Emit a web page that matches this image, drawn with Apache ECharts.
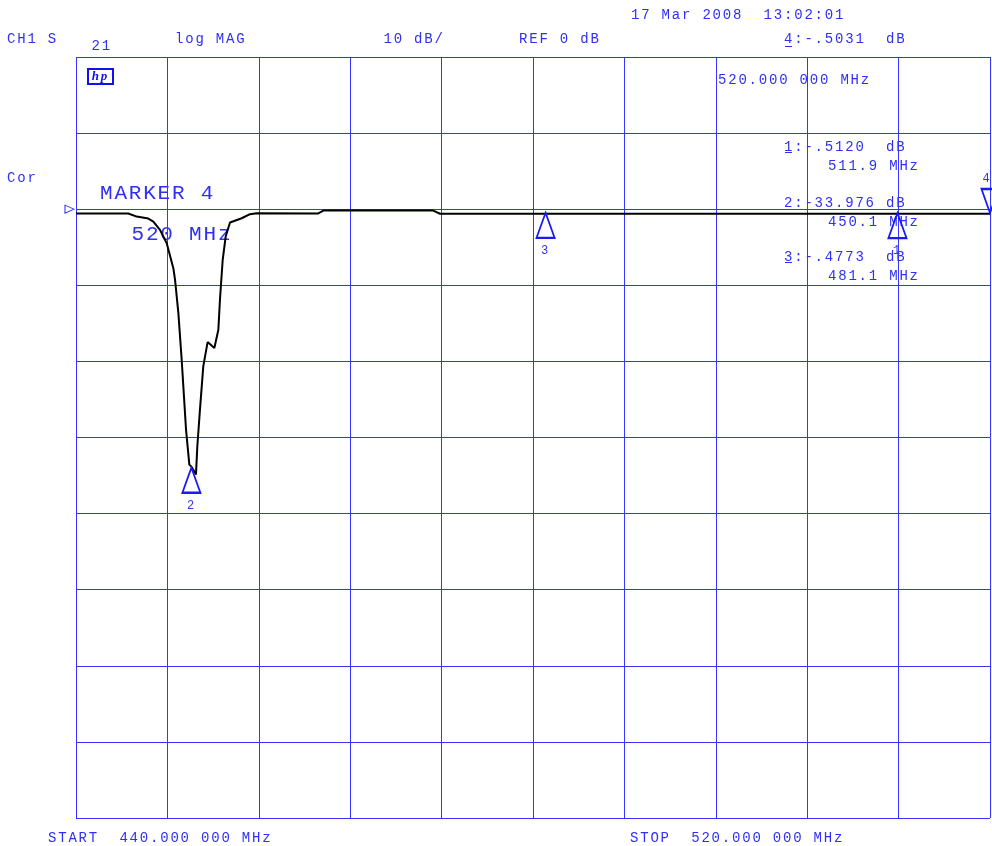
<!DOCTYPE html>
<html>
<head>
<meta charset="utf-8">
<script src="https://cdn.jsdelivr.net/npm/echarts@6/dist/echarts.min.js"></script>
<style>
html,body{margin:0;padding:0;background:#ffffff;}
#c{width:992px;height:846px;}
</style>
</head>
<body>
<div id="c"></div>
<script>
// ---- data (frequency in MHz, magnitude in dB) ----
const freqMHz = [440, 444.58, 445.31, 446.33, 446.77, 447.35, 447.94, 448.52, 448.67, 448.96,
  449.25, 449.63, 449.92, 450.12, 450.50, 450.62, 450.85, 451.14, 451.52, 452.11,
  452.46, 452.60, 452.84, 453.10, 453.48, 454.50, 455.23, 455.81, 461.21, 461.65,
  471.27, 471.86, 520];
const magDb = [-0.55, -0.57, -0.97, -1.23, -1.62, -2.72, -4.47, -7.75, -9.28, -13.65,
  -19.78, -28.96, -33.56, -33.86, -34.87, -31.15, -26.34, -20.65, -17.46, -18.25,
  -15.84, -11.90, -6.65, -3.59, -1.75, -1.19, -0.66, -0.53, -0.55, -0.18,
  -0.18, -0.60, -0.60];

const markerNames = ['1', '2', '3', '4'];
const markerFreq = [511.9, 450.1, 481.1, 520.0];
const markerDb = [-0.5120, -33.976, -0.4773, -0.5031];

const headerTexts = ['CH1 S', '21', 'log MAG', '10 dB/', 'REF 0 dB', '17 Mar 2008  13:02:01',
  '4:-.5031  dB', '520.000 000 MHz', 'Cor'];
const markerListTexts = ['1:-.5120  dB', '511.9 MHz', '2:-33.976 dB', '450.1 MHz', '3:-.4773  dB', '481.1 MHz'];
const activeMarkerTexts = ['MARKER 4', '520 MHz'];
const footerTexts = ['START  440.000 000 MHz', 'STOP  520.000 000 MHz'];

// ---- layout / style ----
const BLUE = '#3030f2';
const GRID = '#3535ff';
const MONO = '"Liberation Mono", "DejaVu Sans Mono", monospace';

const headerPos = [[7, 39.5], [91.5, 46.5], [175, 39.5], [383.5, 39.5], [519, 39.5], [631, 15.5],
  [784, 39.5], [718, 80], [7, 178.5]];
const markerListPos = [[784, 147.5], [828, 166.5], [784, 203], [828, 222], [784, 257.5], [828, 276.5]];
const activeMarkerPos = [[100, 193.5], [131.5, 234]];
const footerPos = [[48, 838], [630, 838]];
const underlines = [[785, 792, 46.5], [785, 792, 152.5], [785, 792, 262.5]];

function textEl(t, p, size) {
  return {
    type: 'text', x: p[0], y: p[1], silent: true,
    style: { text: t, fill: BLUE, fontSize: size, fontFamily: MONO, align: 'left', verticalAlign: 'middle' }
  };
}

const graphics = [];
headerTexts.forEach((t, i) => graphics.push(textEl(t, headerPos[i], 14)));
markerListTexts.forEach((t, i) => graphics.push(textEl(t, markerListPos[i], 14)));
activeMarkerTexts.forEach((t, i) => graphics.push(textEl(t, activeMarkerPos[i], 21)));
footerTexts.forEach((t, i) => graphics.push(textEl(t, footerPos[i], 14)));
underlines.forEach(u => graphics.push({
  type: 'line', silent: true,
  shape: { x1: u[0], y1: u[2], x2: u[1], y2: u[2] },
  style: { stroke: BLUE, lineWidth: 1 }
}));
// hp logo
graphics.push({
  type: 'rect', silent: true,
  shape: { x: 88, y: 69, width: 25, height: 15 },
  style: { fill: 'none', stroke: '#1010f0', lineWidth: 2 }
});
graphics.push({
  type: 'text', silent: true, x: 100.5, y: 77,
  style: { text: 'hp', fill: '#1010f0', fontSize: 13, fontWeight: 'bold', fontStyle: 'italic',
    fontFamily: '"Liberation Serif", serif', align: 'center', verticalAlign: 'middle' }
});

const markData = markerNames.map((n, i) => {
  const up = n !== '4';
  return {
    name: 'M' + n,
    coord: [markerFreq[i], markerDb[i]],
    symbol: 'triangle',
    symbolSize: up ? [18, 25] : [17, 24],
    symbolRotate: up ? 0 : 180,
    symbolOffset: up ? [0, 12.5] : [0, -12],
    label: {
      show: true, formatter: n, position: up ? 'bottom' : 'top',
      distance: up ? 6 : 3, offset: up ? [0, 0] : [-3, 0],
      color: BLUE, fontSize: 12, fontFamily: MONO
    }
  };
});
// reference-level indicator at the left edge (0 dB)
markData.push({
  name: 'REF', coord: [440, 0], symbol: 'triangle', symbolSize: [8, 9],
  symbolRotate: -90, symbolOffset: [-6.5, 0], label: { show: false },
  itemStyle: { color: 'transparent', borderColor: BLUE, borderWidth: 1 }
});

const option = {
  animation: false,
  backgroundColor: '#ffffff',
  grid: { left: 76, right: 2, top: 57, bottom: 28, containLabel: false },
  xAxis: {
    type: 'value', min: 440, max: 520, interval: 8,
    axisLine: { show: false }, axisTick: { show: false }, axisLabel: { show: false },
    splitLine: { show: true, lineStyle: { color: GRID, width: 1 } }
  },
  yAxis: {
    type: 'value', min: -80, max: 20, interval: 10,
    axisLine: { show: false }, axisTick: { show: false }, axisLabel: { show: false },
    splitLine: { show: true, lineStyle: { color: GRID, width: 1 } }
  },
  series: [{
    type: 'line',
    data: freqMHz.map((f, i) => [f, magDb[i]]),
    symbol: 'none',
    lineStyle: { color: '#000000', width: 2 },
    silent: true,
    z: 3,
    markPoint: {
      silent: true,
      itemStyle: { color: 'transparent', borderColor: '#1a1af5', borderWidth: 2 },
      data: markData
    }
  }],
  graphic: graphics
};

const chart = echarts.init(document.getElementById('c'), null, { renderer: 'canvas', width: 992, height: 846 });
chart.setOption(option);
// plotter-style wide letter spacing
document.querySelectorAll('#c canvas').forEach(cv => {
  const ctx = cv.getContext('2d');
  if (ctx && 'letterSpacing' in ctx) ctx.letterSpacing = '1.8px';
});
chart.setOption(option, true);
</script>
</body>
</html>
